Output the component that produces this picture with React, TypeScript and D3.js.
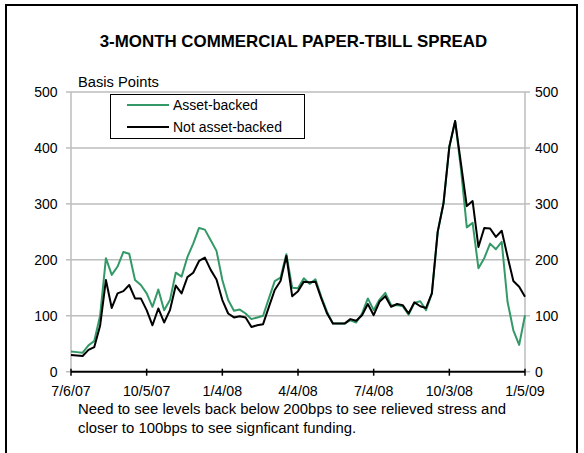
import React from "react";
import * as d3 from "d3";

const tickLabels = ["7/6/07", "10/5/07", "1/4/08", "4/4/08", "7/4/08", "10/3/08", "1/5/09"];
const tickIndex = [0, 13, 26, 39, 52, 65, 78];
const yTicks = [0, 100, 200, 300, 400, 500];

const assetBacked = [
  36, 35, 34, 47, 55, 100, 203, 173, 188, 214, 211, 164, 155, 140, 116, 147, 110, 128, 177, 170,
  205, 229, 257, 254, 235, 216, 164, 128, 109, 111, 104, 94, 97, 100, 131, 162, 168, 210, 150, 149,
  167, 157, 165, 134, 107, 86, 86, 86, 92, 88, 104, 131, 110, 129, 141, 119, 119, 117, 102, 123,
  126, 110, 140, 250, 301, 402, 448, 362, 258, 266, 185, 203, 229, 219, 232, 125, 74, 48, 101,
];
const notAssetBacked = [
  30, 29, 28, 39, 44, 82, 164, 114, 140, 144, 155, 131, 131, 110, 83, 113, 88, 110, 154, 140,
  169, 177, 198, 204, 182, 165, 128, 104, 97, 99, 97, 80, 83, 85, 116, 146, 162, 207, 135, 144,
  161, 160, 161, 131, 104, 86, 86, 86, 94, 91, 101, 121, 101, 125, 135, 116, 121, 119, 104, 124,
  117, 114, 140, 250, 301, 402, 448, 372, 296, 305, 223, 257, 256, 241, 252, 206, 162, 152, 134,
];

const title = "3-MONTH COMMERCIAL PAPER-TBILL SPREAD";
const yLabel = "Basis Points";
const seriesNames = ["Asset-backed", "Not asset-backed"];
const note = [
  "Need to see levels back below 200bps to see relieved stress and",
  "closer to 100bps to see signficant funding.",
];

const GREEN = "#339966";
const GRID = "#bdbdbd";
const FONT = "'Liberation Sans', Arial, sans-serif";

export default function App() {
  const left = 71, right = 525, top = 92, bottom = 371.7;
  const x = d3.scaleLinear().domain([0, assetBacked.length - 1]).range([left, right]);
  const y = d3.scaleLinear().domain([0, 500]).range([bottom, top]);
  const line = d3
    .line<number>()
    .x((_, i) => x(i))
    .y((d) => y(d));

  return (
    <svg
      width={584}
      height={453}
      style={{ position: "absolute", left: 0, top: 0, background: "#fff" }}
      fontFamily={FONT}
    >
      <rect x={6} y={5} width={571} height={470} fill="#fff" stroke="#000" strokeWidth={2} />
      <text x={293.5} y={47} textAnchor="middle" fontSize={16.9} fontWeight="bold">
        {title}
      </text>
      <text x={78} y={87} fontSize={14.7}>
        {yLabel}
      </text>
      {/* gridlines */}
      {yTicks.filter((t) => t > 0).map((t) => (
        <line key={t} x1={left} x2={right} y1={y(t)} y2={y(t)} stroke={GRID} strokeWidth={1.5} />
      ))}
      {/* left/right axes */}
      <line x1={left} x2={left} y1={top} y2={bottom} stroke={GRID} strokeWidth={1.5} />
      <line x1={right} x2={right} y1={top} y2={bottom} stroke={GRID} strokeWidth={1.5} />
      {yTicks.map((t) => (
        <g key={t}>
          <line x1={left - 5} x2={left} y1={y(t)} y2={y(t)} stroke={GRID} strokeWidth={1.5} />
          <line x1={right} x2={right + 5} y1={y(t)} y2={y(t)} stroke={GRID} strokeWidth={1.5} />
          <text x={57.5} y={y(t) + 5} textAnchor="end" fontSize={14}>
            {t}
          </text>
          <text x={535} y={y(t) + 5} fontSize={14}>
            {t}
          </text>
        </g>
      ))}
      {/* lines */}
      <path d={line(assetBacked) || ""} fill="none" stroke={GREEN} strokeWidth={2} strokeLinejoin="round" />
      <path d={line(notAssetBacked) || ""} fill="none" stroke="#000" strokeWidth={2} strokeLinejoin="round" />
      {/* x axis */}
      <line x1={left} x2={right} y1={bottom} y2={bottom} stroke="#000" strokeWidth={2} />
      {tickIndex.map((ti, k) => (
        <g key={ti}>
          <line x1={x(ti)} x2={x(ti)} y1={bottom - 3} y2={bottom + 4} stroke="#000" strokeWidth={1.5} />
          <text x={x(ti)} y={396} textAnchor="middle" fontSize={14.2}>
            {tickLabels[k]}
          </text>
        </g>
      ))}
      {/* legend */}
      <rect x={110.5} y={94.5} width={194} height={44} fill="#fff" stroke="#000" strokeWidth={1} />
      <line x1={127} x2={169} y1={105} y2={105} stroke={GREEN} strokeWidth={2} />
      <line x1={127} x2={169} y1={127} y2={127} stroke="#000" strokeWidth={2} />
      <text x={173} y={110} fontSize={14}>
        {seriesNames[0]}
      </text>
      <text x={173} y={132} fontSize={14}>
        {seriesNames[1]}
      </text>
      {/* note */}
      {note.map((n, i) => (
        <text key={i} x={78} y={414 + i * 19.3} fontSize={14.9}>
          {n}
        </text>
      ))}
    </svg>
  );
}
